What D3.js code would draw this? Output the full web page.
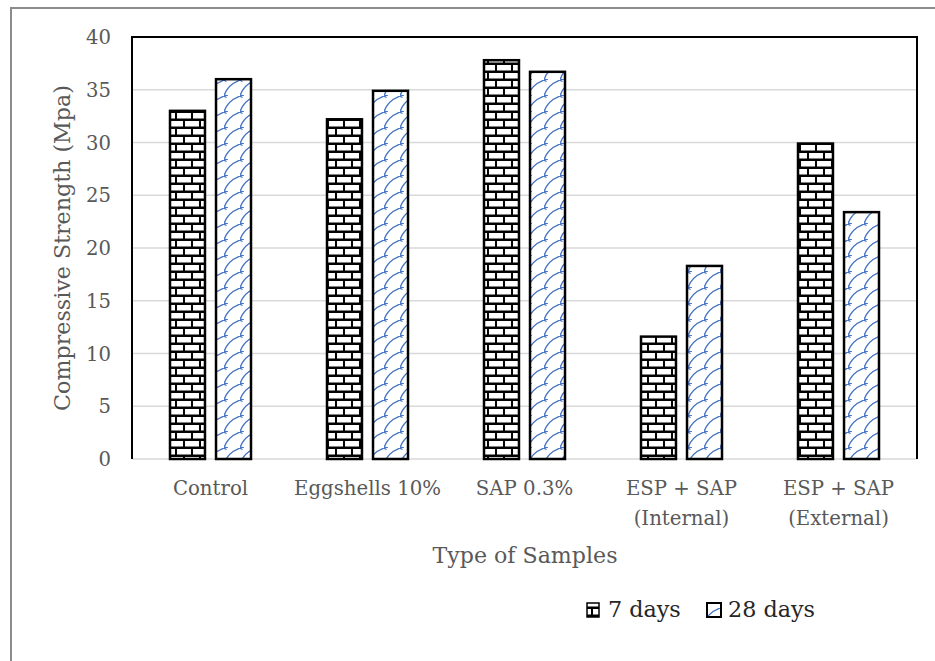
<!DOCTYPE html>
<html><head><meta charset="utf-8">
<script src="https://cdn.jsdelivr.net/npm/d3@7"></script>
<style>body{margin:0;background:#fff}svg{display:block}</style>
</head><body>
<script>
const categories = [["Control"],["Eggshells 10%"],["SAP 0.3%"],["ESP + SAP","(Internal)"],["ESP + SAP","(External)"]];
const seriesNames = ["7 days","28 days"];
const days7 = [33.0, 32.2, 37.8, 11.6, 29.9];
const days28 = [36.0, 34.9, 36.7, 18.3, 23.4];
const yTicks = [0,5,10,15,20,25,30,35,40];

const W=935,H=661;
const font="'DejaVu Serif', 'Liberation Serif', serif";
const svg=d3.select("body").append("svg").attr("width",W).attr("height",H);
const defs=svg.append("defs");

// measure helper: font size so that text spans target width
function fit(text,target){
  const t=svg.append("text").attr("font-family",font).attr("font-size",100).text(text);
  const w=t.node().getComputedTextLength(); t.remove();
  return 100*target/w;
}

// brick pattern
const pb=defs.append("pattern").attr("id","brick").attr("patternUnits","userSpaceOnUse").attr("width",16).attr("height",16);
pb.append("rect").attr("width",16).attr("height",16).attr("fill","#000");
pb.append("rect").attr("x",1).attr("y",1).attr("width",14).attr("height",5.5).attr("fill","#fff");
pb.append("rect").attr("x",-7).attr("y",9).attr("width",14).attr("height",5.5).attr("fill","#fff");
pb.append("rect").attr("x",9).attr("y",9).attr("width",14).attr("height",5.5).attr("fill","#fff");
// shingle-like diagonal pattern
const pd=defs.append("pattern").attr("id","wave").attr("patternUnits","userSpaceOnUse").attr("width",16).attr("height",16);
pd.append("rect").attr("width",16).attr("height",16).attr("fill","#fff");
pd.append("path").attr("d","M0,16 Q3,5 16,0").attr("fill","none").attr("stroke","#4472C4").attr("stroke-width",1.2);
pd.append("path").attr("d","M0.5,15.5 L4,16 M0,0.2 L2.5,1.5").attr("fill","none").attr("stroke","#4472C4").attr("stroke-width",1.3);

// outer border
svg.append("path").attr("d","M11,661 L11,8 L935,8").attr("fill","none").attr("stroke","#8c8c8c").attr("stroke-width",2);

const L=132,R=917,T=37,B=459;
const x=d3.scaleBand().domain(d3.range(categories.length)).range([L,R]);
const y=d3.scaleLinear().domain([0,40]).range([B,T]);
const xs=d3.scaleBand().domain([0,1]).range([0,81]).paddingInner(0.24);

// grid
svg.append("g").selectAll("line").data(yTicks.filter(d=>d>0&&d<40)).join("line")
 .attr("x1",L).attr("x2",R).attr("y1",d=>y(d)).attr("y2",d=>y(d)).attr("stroke","#d9d9d9").attr("stroke-width",1.5);
svg.append("line").attr("x1",L).attr("x2",R).attr("y1",B).attr("y2",B).attr("stroke","#d9d9d9").attr("stroke-width",1.5);

// y tick labels
const tickSize=fit("40",25);
svg.append("g").selectAll("text").data(yTicks).join("text")
 .attr("x",111).attr("y",d=>y(d)).attr("dy","0.36em").attr("text-anchor","end")
 .attr("font-family",font).attr("font-size",tickSize).attr("fill","#595959").text(d=>d);

// bars
const series=[days7,days28];
const fills=["url(#brick)","url(#wave)"];
series.forEach((vals,si)=>{
  svg.append("g").selectAll("rect").data(vals).join("rect")
   .attr("x",(d,i)=>x(i)+x.bandwidth()/2-40.5+xs(si))
   .attr("width",xs.bandwidth())
   .attr("y",d=>y(d)).attr("height",d=>B-y(d))
   .attr("fill",fills[si]).attr("stroke","#000").attr("stroke-width",2.5);
});

// plot frame
svg.append("path").attr("d",`M${L},${B} L${L},${T} L${R},${T} L${R},${B}`).attr("fill","none").attr("stroke","#000").attr("stroke-width",2);

// category labels
const catSize=fit("Eggshells 10%",147);
const cl=svg.append("g");
categories.forEach((c,i)=>{
  c.forEach((t,j)=>{
    cl.append("text").attr("x",x(i)+x.bandwidth()/2).attr("y",495+j*30).attr("text-anchor","middle")
     .attr("font-family",font).attr("font-size",catSize).attr("fill","#595959").text(t);
  });
});
// axis titles
svg.append("text").attr("x",525).attr("y",563).attr("text-anchor","middle")
 .attr("font-family",font).attr("font-size",fit("Type of Samples",185)).attr("fill","#595959").text("Type of Samples");
svg.append("text").attr("transform","translate(70,248) rotate(-90)").attr("text-anchor","middle")
 .attr("font-family",font).attr("font-size",fit("Compressive Strength (Mpa)",326)).attr("fill","#595959").text("Compressive Strength (Mpa)");

// legend
const lgSize=fit("28 days",87);
const lg=svg.append("g");
const sx=[587,707], tx=[608,728];
seriesNames.forEach((n,i)=>{
  lg.append("rect").attr("x",sx[i]).attr("y",603).attr("width",i?14:12).attr("height",14)
   .attr("fill",fills[i]).attr("stroke","#000").attr("stroke-width",i?2:1.5);
  lg.append("text").attr("x",tx[i]).attr("y",617).attr("font-family",font).attr("font-size",lgSize).attr("fill","#262626").text(n);
});
</script>
</body></html>
